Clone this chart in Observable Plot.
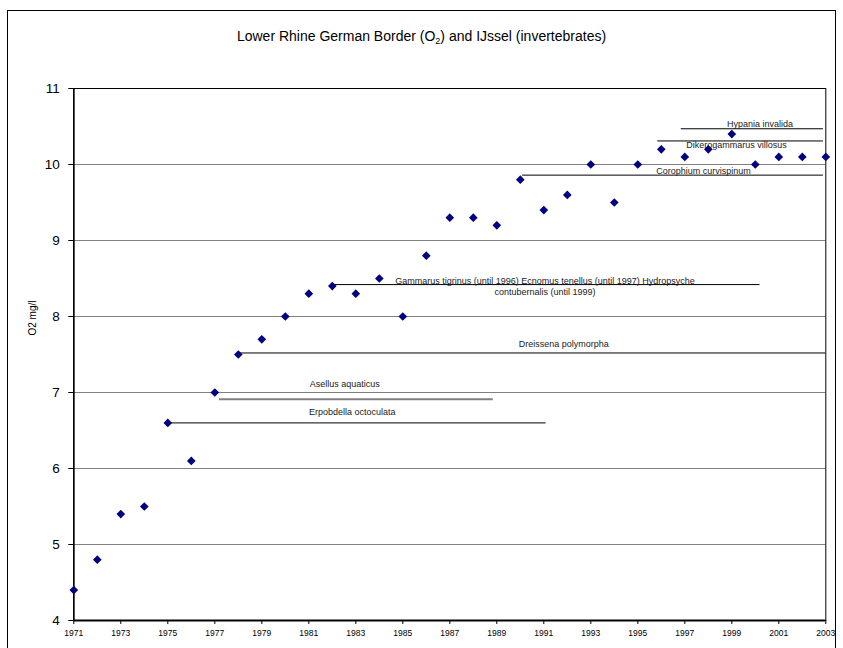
<!DOCTYPE html>
<html>
<head>
<meta charset="utf-8">
<script src="https://cdn.jsdelivr.net/npm/d3@7"></script>
<script src="https://cdn.jsdelivr.net/npm/@observablehq/plot@0.6"></script>
<style>
  html, body { margin: 0; padding: 0; background: #fff; }
  #wrap { position: relative; width: 843px; height: 648px; overflow: hidden; font-family: "Liberation Sans", Arial, sans-serif; }
  #border { position: absolute; left: 7px; top: 10px; width: 829px; height: 700px; border: 1px solid #000; box-sizing: border-box; pointer-events: none; }
  #title { position: absolute; left: 0; top: 27px; width: 843px; text-align: center; font-size: 14px; line-height: 18px; color: #000; }
  #title sub { font-size: 9px; vertical-align: -3px; line-height: 0; }
  #chart { position: absolute; left: 0; top: 0; }
</style>
</head>
<body>
<div id="wrap">
  <div id="chart"></div>
  <div id="border"></div>
  <div id="title">Lower Rhine German Border (O<sub>2</sub>) and IJssel (invertebrates)</div>
</div>
<script>
// O2 measurements (mg/l) per year
const years = [1971,1972,1973,1974,1975,1976,1977,1978,1979,1980,1981,1982,1983,1984,1985,1986,1987,1988,1989,1990,1991,1992,1993,1994,1995,1996,1997,1998,1999,2000,2001,2002,2003];
const o2 = [4.4,4.8,5.4,5.5,6.6,6.1,7.0,7.5,7.7,8.0,8.3,8.4,8.3,8.5,8.0,8.8,9.3,9.3,9.2,9.8,9.4,9.6,10.0,9.5,10.0,10.2,10.1,10.2,10.4,10.0,10.1,10.1,10.1];

// Invertebrate presence ranges
const species = [
  "Erpobdella octoculata",
  "Asellus aquaticus",
  "Dreissena polymorpha",
  "Gammarus tigrinus (until 1996) Ecnomus tenellus (until 1997) Hydropsyche\ncontubernalis (until 1999)",
  "Corophium curvispinum",
  "Dikerogammarus villosus",
  "Hypania invalida"
];
const rangeStart = [1975, 1977.2, 1978, 1982, 1990.1, 1995.85, 1996.85];
const rangeEnd   = [1991.1, 1988.85, 2003, 2000.2, 2002.9, 2002.9, 2002.9];
const rangeLevel = [6.6, 6.91, 7.52, 8.42, 9.86, 10.31, 10.47];
const labelYear  = [1982.85, 1982.53, 1991.85, 1991.05, 1997.8, 1999.2, 2000.2];
const labelLevel = [6.75, 7.12, 7.64, 8.40, 9.92, 10.26, 10.54];

const xTicks = [1971,1973,1975,1977,1979,1981,1983,1985,1987,1989,1991,1993,1995,1997,1999,2001,2003];
const yTicks = [4,5,6,7,8,9,10,11];
const gridLevels = [5,6,7,8,9,10];
const yLabel = "O2 mg/l";

const points = years.map((year, i) => ({year, value: o2[i]}));
const ranges = species.map((name, i) => ({
  name, x1: rangeStart[i], x2: rangeEnd[i], y: rangeLevel[i],
  lx: labelYear[i], ly: labelLevel[i], gray: i === 1
}));

const chart = Plot.plot({
  width: 843,
  height: 648,
  marginLeft: 73.3,
  marginRight: 17.7,
  marginTop: 88,
  marginBottom: 28,
  style: { fontFamily: "'Liberation Sans', Arial, sans-serif", background: "transparent", color: "#000" },
  x: { domain: [1971, 2003] },
  y: { domain: [4, 11] },
  marks: [
    Plot.ruleY(gridLevels, { stroke: "#808080", strokeWidth: 1 }),
    Plot.frame({ stroke: "#000", strokeWidth: 1 }),
    Plot.ruleY([4], { stroke: "#000", strokeWidth: 2 }),
    Plot.ruleX([1971], { stroke: "#000", strokeWidth: 1.5 }),
    Plot.axisY({ ticks: yTicks, tickFormat: d => String(d), tickSize: 5, tickPadding: 9, fontSize: 13.5, label: null }),
    Plot.axisX({ ticks: xTicks, tickFormat: d => String(d), tickSize: 4, tickPadding: 5, fontSize: 8.5, label: null }),
    Plot.text([yLabel], { frameAnchor: "left", dx: -41, dy: -19, rotate: -90, fontSize: 10, text: d => d }),
    Plot.ruleY(ranges, { x1: "x1", x2: "x2", y: "y", stroke: d => d.gray ? "#808080" : "#000", strokeWidth: d => d.gray ? 2 : 1 }),
    Plot.text(ranges, { x: "lx", y: "ly", text: "name", fontSize: 9, fill: "#222", lineHeight: 1.25, textAnchor: "middle" }),
    Plot.dot(points, { x: "year", y: "value", symbol: "diamond2", r: 3.9, fill: "#000080", stroke: "none" })
  ]
});
document.getElementById("chart").appendChild(chart);
</script>
</body>
</html>
